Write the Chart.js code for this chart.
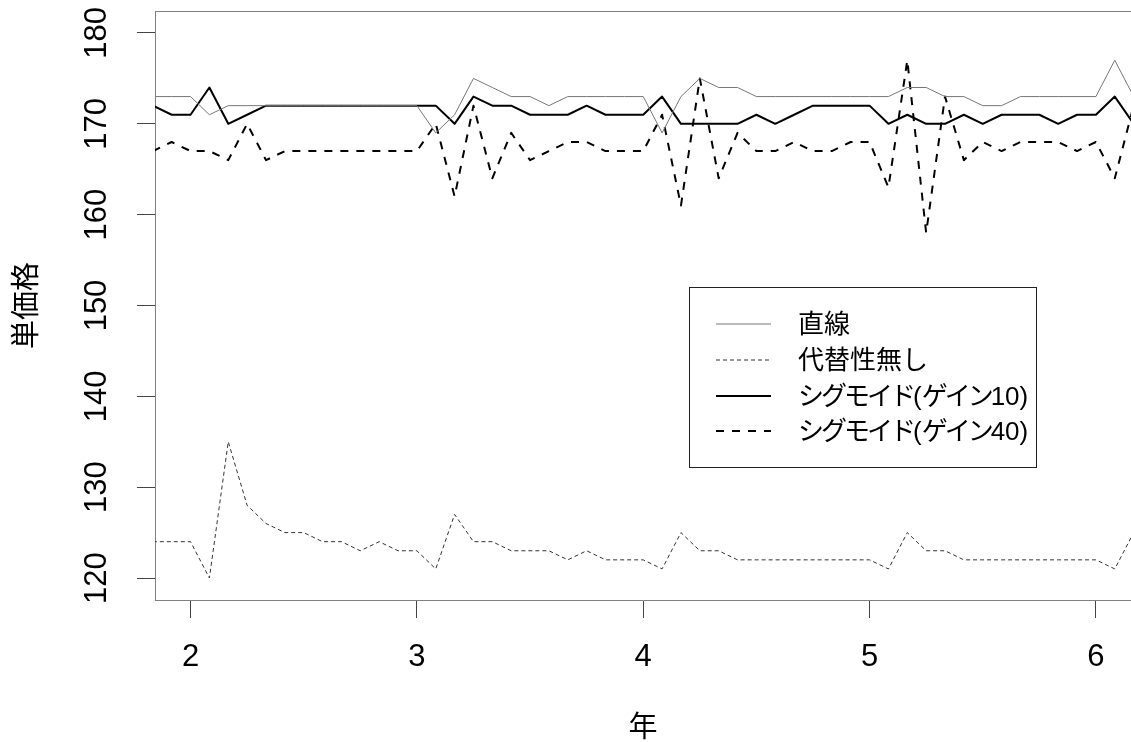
<!DOCTYPE html>
<html><head><meta charset="utf-8">
<script src="https://cdn.jsdelivr.net/npm/chart.js@4/dist/chart.umd.min.js"></script>
<style>html,body{margin:0;padding:0;background:#fff;overflow:hidden}canvas{display:block}</style>
</head><body>
<canvas id="c" width="1131" height="742"></canvas>
<script>
// month index (x = month / 12 years)
const months = [22,23,24,25,26,27,28,29,30,31,32,33,34,35,36,37,38,39,40,41,42,43,44,45,46,47,48,49,50,51,52,53,54,55,56,57,58,59,60,61,62,63,64,65,66,67,68,69,70,71,72,73,74];
const linearSeries = [173,173,173,171,172,172,172,172,172,172,172,172,172,172,172,169,171,175,174,173,173,172,173,173,173,173,173,169,173,175,174,174,173,173,173,173,173,173,173,173,174,174,173,173,172,172,173,173,173,173,173,177,173];
const noSubstSeries = [124,124,124,120,135,128,126,125,125,124,124,123,124,123,123,121,127,124,124,123,123,123,122,123,122,122,122,121,125,123,123,122,122,122,122,122,122,122,122,121,125,123,123,122,122,122,122,122,122,122,122,121,125];
const sigmoid10Series = [172,171,171,174,170,171,172,172,172,172,172,172,172,172,172,172,170,173,172,172,171,171,171,172,171,171,171,173,170,170,170,170,171,170,171,172,172,172,172,170,171,170,170,171,170,171,171,171,170,171,171,173,170];
const sigmoid40Series = [167,168,167,167,166,170,166,167,167,167,167,167,167,167,167,170,162,172,164,169,166,167,168,168,167,167,167,171,161,175,164,169,167,167,168,167,167,168,168,163,177,158,173,166,168,167,168,168,168,167,168,164,172];
const seriesNames = ['直線','代替性無し','シグモイド(ゲイン10)','シグモイド(ゲイン40)'];
const xTicks = [2,3,4,5,6];
const yTicks = [120,130,140,150,160,170,180];
const xTitle = '年';
const yTitle = '単価格';

const NUM_FONT = "'Liberation Sans Narrow', 'Arial Narrow', 'Liberation Sans', Arial, sans-serif";
const JP_FONT = "'Liberation Sans Narrow', 'Liberation Sans', 'Noto Sans CJK JP', sans-serif";

const styles = [
  {borderColor:'#777777', borderWidth:1, borderDash:[]},
  {borderColor:'#333333', borderWidth:1, borderDash:[4,3]},
  {borderColor:'#000000', borderWidth:2, borderDash:[]},
  {borderColor:'#000000', borderWidth:2, borderDash:[8,8]}
];
const allSeries = [linearSeries, noSubstSeries, sigmoid10Series, sigmoid40Series];
const toPts = arr => arr.map((v,i)=>({x: months[i]/12, y: v}));

const datasets = allSeries.map((s,i)=>({
  label: seriesNames[i],
  data: toPts(s),
  borderColor: styles[i].borderColor,
  borderWidth: styles[i].borderWidth,
  borderDash: styles[i].borderDash,
  pointRadius: 0,
  tension: 0,
  fill: false,
  borderCapStyle: 'butt',
  borderJoinStyle: 'round'
}));

function drawLegendText(ctx, text, x, y) {
  const re = /([\u30A0-\u30FF]+)|([^\u30A0-\u30FF]+)/g;
  let m;
  while ((m = re.exec(text)) !== null) {
    const run = m[0];
    ctx.letterSpacing = m[1] ? '-3px' : '0px';
    ctx.fillText(run, x, y);
    x += ctx.measureText(run).width;
  }
  ctx.letterSpacing = '0px';
}

const decor = {
  id: 'decor',
  afterDraw(chart) {
    const ctx = chart.ctx;
    const a = chart.chartArea;
    const ys = chart.scales.y;
    ctx.save();
    // top border of plot box
    ctx.strokeStyle = '#808080';
    ctx.lineWidth = 1;
    ctx.beginPath();
    ctx.moveTo(a.left, a.top + 0.5);
    ctx.lineTo(a.right, a.top + 0.5);
    ctx.stroke();
    // rotated y tick labels
    ctx.fillStyle = '#000';
    ctx.font = '31px ' + NUM_FONT;
    ctx.textAlign = 'center';
    ctx.textBaseline = 'alphabetic';
    yTicks.forEach(v => {
      const py = ys.getPixelForValue(v);
      ctx.save();
      ctx.translate(106, py);
      ctx.rotate(-Math.PI/2);
      ctx.fillText(String(v), 0, 0);
      ctx.restore();
    });
    // axis titles
    ctx.font = '29px ' + JP_FONT;
    ctx.textBaseline = 'middle';
    ctx.fillText(xTitle, (a.left + a.right)/2, 729);
    ctx.save();
    ctx.translate(28, (a.top + a.bottom)/2);
    ctx.rotate(-Math.PI/2);
    ctx.fillText(yTitle, 0, 0);
    ctx.restore();
    // legend
    ctx.strokeStyle = '#222';
    ctx.lineWidth = 1;
    ctx.setLineDash([]);
    ctx.strokeRect(689.5, 287.5, 347, 180);
    const rowY = [324, 360, 396, 431];
    ctx.font = '26px ' + JP_FONT;
    ctx.textAlign = 'left';
    ctx.textBaseline = 'middle';
    seriesNames.forEach((n,i) => {
      ctx.strokeStyle = styles[i].borderColor;
      ctx.lineWidth = styles[i].borderWidth;
      ctx.setLineDash(styles[i].borderDash);
      ctx.beginPath();
      ctx.moveTo(716, rowY[i]);
      ctx.lineTo(771, rowY[i]);
      ctx.stroke();
      ctx.setLineDash([]);
      ctx.fillStyle = '#000';
      drawLegendText(ctx, n, 798, rowY[i] + 2);
    });
    ctx.restore();
  }
};

new Chart(document.getElementById('c'), {
  type: 'line',
  data: { datasets },
  options: {
    responsive: false,
    animation: false,
    devicePixelRatio: 1,
    layout: { padding: { top: 11, left: 0, right: 0, bottom: 0 } },
    plugins: { legend: { display: false }, tooltip: { enabled: false } },
    scales: {
      x: {
        type: 'linear',
        min: 1.843,
        max: 6.155,
        afterBuildTicks: s => { s.ticks = xTicks.map(v => ({value: v})); },
        afterFit: s => { s.height = 142; },
        grid: { drawOnChartArea: false, drawTicks: true, tickLength: 18, color: '#444' },
        border: { display: true, color: '#808080', width: 1 },
        ticks: { color: '#000', font: { family: NUM_FONT, size: 31 }, padding: 21, maxRotation: 0, minRotation: 0, callback: v => String(v) }
      },
      y: {
        type: 'linear',
        min: 117.58,
        max: 182.42,
        afterBuildTicks: s => { s.ticks = yTicks.map(v => ({value: v})); },
        afterFit: s => { s.width = 155; },
        grid: { drawOnChartArea: false, drawTicks: true, tickLength: 18, color: '#444' },
        border: { display: true, color: '#808080', width: 1 },
        ticks: { display: false }
      }
    }
  },
  plugins: [decor]
});
</script>
</body></html>
